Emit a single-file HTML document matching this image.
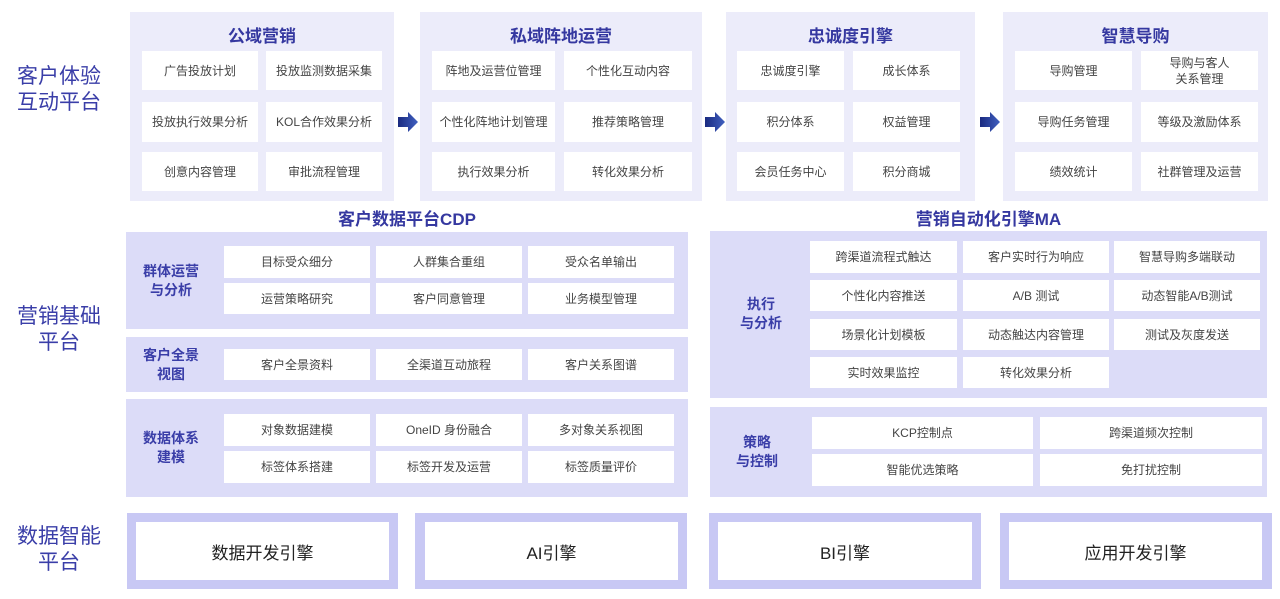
<!DOCTYPE html>
<html><head><meta charset="utf-8"><style>
*{margin:0;padding:0;box-sizing:border-box}
body{width:1280px;height:599px;background:#fff;position:relative;overflow:hidden;font-family:"Liberation Sans","Noto Sans CJK SC",sans-serif}
div{position:absolute}
.pl{background:#ececfa}
.gp{background:#dcdcf8}
.c{background:#fff;display:flex;align-items:center;justify-content:center;font-size:12px;color:#444;text-align:center;line-height:16px}
.t{font-size:17px;font-weight:bold;color:#3538a0;text-align:center;white-space:nowrap}
.L{font-size:21px;color:#3a3ea8;text-align:center;line-height:26px;width:110px}
.g{font-size:14px;font-weight:bold;color:#3a3ea8;text-align:center;line-height:19px;width:80px}
.ar{width:21px;height:20px}
.bo{background:#c8c8f4}
.bi{background:#fff;display:flex;align-items:center;justify-content:center;font-size:17px;color:#222}
</style></head><body>
<div class="L" style="left:4px;top:64px">客户体验<br>互动平台</div>
<div class="L" style="left:4px;top:304px">营销基础<br>平台</div>
<div class="L" style="left:4px;top:524px">数据智能<br>平台</div>

<!-- top panels -->
<div class="pl" style="left:130px;top:12px;width:264px;height:189px"></div>
<div class="t" style="left:130px;top:22px;width:264px">公域营销</div>
<div class="c" style="left:142px;top:51px;width:116px;height:39px">广告投放计划</div>
<div class="c" style="left:266px;top:51px;width:116px;height:39px">投放监测数据采集</div>
<div class="c" style="left:142px;top:102px;width:116px;height:40px">投放执行效果分析</div>
<div class="c" style="left:266px;top:102px;width:116px;height:40px">KOL合作效果分析</div>
<div class="c" style="left:142px;top:152px;width:116px;height:39px">创意内容管理</div>
<div class="c" style="left:266px;top:152px;width:116px;height:39px">审批流程管理</div>

<div class="pl" style="left:420px;top:12px;width:282px;height:189px"></div>
<div class="t" style="left:420px;top:22px;width:282px">私域阵地运营</div>
<div class="c" style="left:432px;top:51px;width:123px;height:39px">阵地及运营位管理</div>
<div class="c" style="left:564px;top:51px;width:128px;height:39px">个性化互动内容</div>
<div class="c" style="left:432px;top:102px;width:123px;height:40px">个性化阵地计划管理</div>
<div class="c" style="left:564px;top:102px;width:128px;height:40px">推荐策略管理</div>
<div class="c" style="left:432px;top:152px;width:123px;height:39px">执行效果分析</div>
<div class="c" style="left:564px;top:152px;width:128px;height:39px">转化效果分析</div>

<div class="pl" style="left:726px;top:12px;width:249px;height:189px"></div>
<div class="t" style="left:726px;top:22px;width:249px">忠诚度引擎</div>
<div class="c" style="left:737px;top:51px;width:107px;height:39px">忠诚度引擎</div>
<div class="c" style="left:853px;top:51px;width:107px;height:39px">成长体系</div>
<div class="c" style="left:737px;top:102px;width:107px;height:40px">积分体系</div>
<div class="c" style="left:853px;top:102px;width:107px;height:40px">权益管理</div>
<div class="c" style="left:737px;top:152px;width:107px;height:39px">会员任务中心</div>
<div class="c" style="left:853px;top:152px;width:107px;height:39px">积分商城</div>

<div class="pl" style="left:1003px;top:12px;width:265px;height:189px"></div>
<div class="t" style="left:1003px;top:22px;width:265px">智慧导购</div>
<div class="c" style="left:1015px;top:51px;width:117px;height:39px">导购管理</div>
<div class="c" style="left:1141px;top:51px;width:117px;height:39px">导购与客人<br>关系管理</div>
<div class="c" style="left:1015px;top:102px;width:117px;height:40px">导购任务管理</div>
<div class="c" style="left:1141px;top:102px;width:117px;height:40px">等级及激励体系</div>
<div class="c" style="left:1015px;top:152px;width:117px;height:39px">绩效统计</div>
<div class="c" style="left:1141px;top:152px;width:117px;height:39px">社群管理及运营</div>

<svg style="position:absolute;left:0;top:0" width="1280" height="599">
<defs><linearGradient id="a" x1="0" x2="1"><stop offset="0" stop-color="#1a2a80"/><stop offset="1" stop-color="#4060c0"/></linearGradient></defs>
<g fill="url(#a)">
<polygon points="398,117 408,117 408,112 418,122 408,132 408,127 398,127"/>
<polygon points="705,117 715,117 715,112 725,122 715,132 715,127 705,127"/>
<polygon points="980,117 990,117 990,112 1000,122 990,132 990,127 980,127"/>
</g></svg>

<!-- CDP -->
<div class="t" style="left:126px;top:205px;width:562px">客户数据平台CDP</div>
<div class="gp" style="left:126px;top:232px;width:562px;height:97px"></div>
<div class="g" style="left:131px;top:262px">群体运营<br>与分析</div>
<div class="c" style="left:224px;top:246px;width:146px;height:32px">目标受众细分</div>
<div class="c" style="left:376px;top:246px;width:146px;height:32px">人群集合重组</div>
<div class="c" style="left:528px;top:246px;width:146px;height:32px">受众名单输出</div>
<div class="c" style="left:224px;top:283px;width:146px;height:31px">运营策略研究</div>
<div class="c" style="left:376px;top:283px;width:146px;height:31px">客户同意管理</div>
<div class="c" style="left:528px;top:283px;width:146px;height:31px">业务模型管理</div>

<div class="gp" style="left:126px;top:337px;width:562px;height:55px"></div>
<div class="g" style="left:131px;top:346px">客户全景<br>视图</div>
<div class="c" style="left:224px;top:349px;width:146px;height:31px">客户全景资料</div>
<div class="c" style="left:376px;top:349px;width:146px;height:31px">全渠道互动旅程</div>
<div class="c" style="left:528px;top:349px;width:146px;height:31px">客户关系图谱</div>

<div class="gp" style="left:126px;top:399px;width:562px;height:98px"></div>
<div class="g" style="left:131px;top:429px">数据体系<br>建模</div>
<div class="c" style="left:224px;top:414px;width:146px;height:32px">对象数据建模</div>
<div class="c" style="left:376px;top:414px;width:146px;height:32px">OneID 身份融合</div>
<div class="c" style="left:528px;top:414px;width:146px;height:32px">多对象关系视图</div>
<div class="c" style="left:224px;top:451px;width:146px;height:32px">标签体系搭建</div>
<div class="c" style="left:376px;top:451px;width:146px;height:32px">标签开发及运营</div>
<div class="c" style="left:528px;top:451px;width:146px;height:32px">标签质量评价</div>

<!-- MA -->
<div class="t" style="left:710px;top:205px;width:557px">营销自动化引擎MA</div>
<div class="gp" style="left:710px;top:231px;width:557px;height:167px"></div>
<div class="g" style="left:721px;top:295px">执行<br>与分析</div>
<div class="c" style="left:810px;top:241px;width:147px;height:32px">跨渠道流程式触达</div>
<div class="c" style="left:963px;top:241px;width:146px;height:32px">客户实时行为响应</div>
<div class="c" style="left:1114px;top:241px;width:146px;height:32px">智慧导购多端联动</div>
<div class="c" style="left:810px;top:280px;width:147px;height:31px">个性化内容推送</div>
<div class="c" style="left:963px;top:280px;width:146px;height:31px">A/B 测试</div>
<div class="c" style="left:1114px;top:280px;width:146px;height:31px">动态智能A/B测试</div>
<div class="c" style="left:810px;top:319px;width:147px;height:31px">场景化计划模板</div>
<div class="c" style="left:963px;top:319px;width:146px;height:31px">动态触达内容管理</div>
<div class="c" style="left:1114px;top:319px;width:146px;height:31px">测试及灰度发送</div>
<div class="c" style="left:810px;top:357px;width:147px;height:31px">实时效果监控</div>
<div class="c" style="left:963px;top:357px;width:146px;height:31px">转化效果分析</div>

<div class="gp" style="left:710px;top:407px;width:557px;height:90px"></div>
<div class="g" style="left:717px;top:433px">策略<br>与控制</div>
<div class="c" style="left:812px;top:417px;width:221px;height:32px">KCP控制点</div>
<div class="c" style="left:1040px;top:417px;width:222px;height:32px">跨渠道频次控制</div>
<div class="c" style="left:812px;top:454px;width:221px;height:32px">智能优选策略</div>
<div class="c" style="left:1040px;top:454px;width:222px;height:32px">免打扰控制</div>

<!-- bottom -->
<div class="bo" style="left:127px;top:513px;width:271px;height:76px"></div>
<div class="bi" style="left:136px;top:522px;width:253px;height:58px">数据开发引擎</div>
<div class="bo" style="left:415px;top:513px;width:272px;height:76px"></div>
<div class="bi" style="left:425px;top:522px;width:253px;height:58px">AI引擎</div>
<div class="bo" style="left:709px;top:513px;width:272px;height:76px"></div>
<div class="bi" style="left:718px;top:522px;width:254px;height:58px">BI引擎</div>
<div class="bo" style="left:1000px;top:513px;width:272px;height:76px"></div>
<div class="bi" style="left:1009px;top:522px;width:253px;height:58px">应用开发引擎</div>
</body></html>
